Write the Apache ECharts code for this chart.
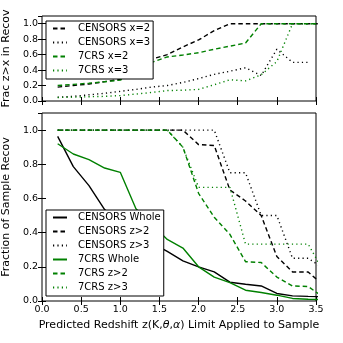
<!DOCTYPE html>
<html>
<head>
<meta charset="utf-8">
<script src="https://cdn.jsdelivr.net/npm/echarts@6/dist/echarts.min.js"></script>
<style>
  html, body { margin: 0; padding: 0; background: #fff; }
  #chart { width: 343px; height: 343px; }
</style>
</head>
<body>
<div id="chart"></div>
<script>
// redshift limits the fractions were computed at
const zLimits = [0.2, 0.4, 0.6, 0.8, 1.0, 1.2, 1.4, 1.6, 1.8, 2.0, 2.2, 2.4, 2.6, 2.8, 3.0, 3.2, 3.4, 3.6];

// top panel: fraction with z > x among recovered
const censorsX2 = [0.18, 0.20, 0.22, 0.25, 0.28, 0.41, 0.54, 0.60, 0.70, 0.79, 0.91, 1.0, 1.0, 1.0, 1.0, 1.0, 1.0, 1.0];
const censorsX3 = [0.05, 0.06, 0.08, 0.10, 0.125, 0.15, 0.18, 0.20, 0.24, 0.29, 0.345, 0.385, 0.43, 0.33, 0.67, 0.50, 0.50, null];
const crsX2 = [0.20, 0.215, 0.23, 0.25, 0.27, 0.38, 0.50, 0.57, 0.595, 0.625, 0.67, 0.71, 0.75, 1.0, 1.0, 1.0, 1.0, 1.0];
const crsX3 = [0.045, 0.05, 0.055, 0.06, 0.07, 0.09, 0.11, 0.135, 0.14, 0.15, 0.21, 0.275, 0.26, 0.34, 0.51, 1.0, 1.0, 1.0];

// bottom panel: fraction of sample recovered
const censorsWhole = [0.963, 0.786, 0.675, 0.535, 0.46, 0.40, 0.34, 0.29, 0.235, 0.20, 0.17, 0.11, 0.098, 0.088, 0.044, 0.03, 0.027, 0.025];
const censorsZ2 = [1, 1, 1, 1, 1, 1, 1, 1, 1, 0.915, 0.91, 0.65, 0.585, 0.50, 0.26, 0.17, 0.17, 0.09];
const censorsZ3 = [1, 1, 1, 1, 1, 1, 1, 1, 1, 1, 1, 0.75, 0.75, 0.5, 0.5, 0.25, 0.25, 0.19];
const crsWhole = [0.92, 0.86, 0.827, 0.778, 0.753, 0.54, 0.45, 0.36, 0.31, 0.20, 0.14, 0.108, 0.063, 0.05, 0.034, 0.015, 0.01, 0.008];
const crsZ2 = [1, 1, 1, 1, 1, 1, 1, 1, 0.9, 0.63, 0.49, 0.39, 0.23, 0.225, 0.14, 0.088, 0.085, 0.02];
const crsZ3 = [1, 1, 1, 1, 1, 1, 1, 1, 0.9, 0.665, 0.665, 0.665, 0.333, 0.333, 0.333, 0.333, 0.333, 0.17];

const FONT = 'DejaVu Sans';
const GREEN = '#008000';
const DASH = [4.5, 3];
const DOT = [1.2, 3.2];

function pairs(vals) {
  return zLimits.map((z, i) => [z, vals[i]]);
}

function line(name, vals, color, type, xi, yi) {
  return {
    name: name,
    type: 'line',
    xAxisIndex: xi,
    yAxisIndex: yi,
    data: pairs(vals),
    symbol: 'none',
    showSymbol: false,
    silent: true,
    animation: false,
    clip: true,
    lineStyle: { color: color, width: 1.4, type: type },
    itemStyle: { color: color }
  };
}

function xAx(gi, pos, labels, name) {
  return {
    type: 'value', gridIndex: gi, position: pos,
    min: 0, max: 3.5, interval: 0.5,
    axisLine: { show: false },
    axisTick: { show: true, inside: true, length: 4, lineStyle: { color: '#000' } },
    splitLine: { show: false },
    axisLabel: { show: labels, color: '#000', fontFamily: FONT, fontSize: 9.5, margin: 4,
      formatter: v => v.toFixed(1) },
    name: name || '',
    nameLocation: 'middle',
    nameGap: 19,
    nameTextStyle: { color: '#000', fontFamily: FONT, fontSize: 11,
      rich: { i: { fontStyle: 'italic', fontFamily: FONT, fontSize: 11, color: '#000' } } }
  };
}

function yAx(gi, pos, labels, name) {
  return {
    type: 'value', gridIndex: gi, position: pos,
    min: 0, max: 1.1, interval: 0.2,
    axisLine: { show: false },
    axisTick: { show: true, inside: true, length: 4, lineStyle: { color: '#000' } },
    splitLine: { show: false },
    axisLabel: { show: labels, color: '#000', fontFamily: FONT, fontSize: 9.5, margin: 4,
      showMaxLabel: false, formatter: v => v.toFixed(1) },
    name: name || '',
    nameLocation: 'middle',
    nameRotate: 90,
    nameGap: 27,
    nameTextStyle: { color: '#000', fontFamily: FONT, fontSize: 11 }
  };
}

const legendBase = {
  orient: 'vertical',
  backgroundColor: '#fff',
  borderColor: '#000',
  borderWidth: 1,
  borderRadius: 0,
  padding: [2, 3, 3, 6],
  itemWidth: 14,
  itemHeight: 8,
  itemGap: 3,
  selectedMode: false,
  itemStyle: { opacity: 0 },
  textStyle: { color: '#000', fontFamily: FONT, fontSize: 10, lineHeight: 11, padding: [0, 0, 0, 6] }
};

const chart = echarts.init(document.getElementById('chart'), null, { renderer: 'canvas' });
chart.setOption({
  animation: false,
  backgroundColor: '#fff',
  grid: [
    { left: 42, top: 16, width: 274, height: 85, show: true, borderColor: '#000', borderWidth: 1, backgroundColor: 'transparent', outerBoundsMode: 'none' },
    { left: 42, top: 113, width: 274, height: 188, show: true, borderColor: '#000', borderWidth: 1, backgroundColor: 'transparent', outerBoundsMode: 'none' }
  ],
  xAxis: [
    xAx(0, 'bottom', false),
    xAx(0, 'top', false),
    xAx(1, 'bottom', true, 'Predicted Redshift z(K,{i|θ},{i|α}) Limit Applied to Sample'),
    xAx(1, 'top', false)
  ],
  yAxis: [
    yAx(0, 'left', true, 'Frac z>x in Recov'),
    yAx(0, 'right', false),
    yAx(1, 'left', true, 'Fraction of Sample Recov'),
    yAx(1, 'right', false)
  ],
  legend: [
    Object.assign({}, legendBase, {
      left: 46, top: 21,
      data: ['CENSORS x=2', 'CENSORS x=3', '7CRS x=2', '7CRS x=3']
    }),
    Object.assign({}, legendBase, {
      left: 46, top: 210,
      data: ['CENSORS Whole', 'CENSORS z>2', 'CENSORS z>3', '7CRS Whole', '7CRS z>2', '7CRS z>3']
    })
  ],
  series: [
    line('CENSORS x=2', censorsX2, '#000', DASH, 0, 0),
    line('CENSORS x=3', censorsX3, '#000', DOT, 0, 0),
    line('7CRS x=2', crsX2, GREEN, DASH, 0, 0),
    line('7CRS x=3', crsX3, GREEN, DOT, 0, 0),
    line('CENSORS Whole', censorsWhole, '#000', 'solid', 2, 2),
    line('CENSORS z>2', censorsZ2, '#000', DASH, 2, 2),
    line('CENSORS z>3', censorsZ3, '#000', DOT, 2, 2),
    line('7CRS Whole', crsWhole, GREEN, 'solid', 2, 2),
    line('7CRS z>2', crsZ2, GREEN, DASH, 2, 2),
    line('7CRS z>3', crsZ3, GREEN, DOT, 2, 2)
  ]
});
</script>
</body>
</html>
